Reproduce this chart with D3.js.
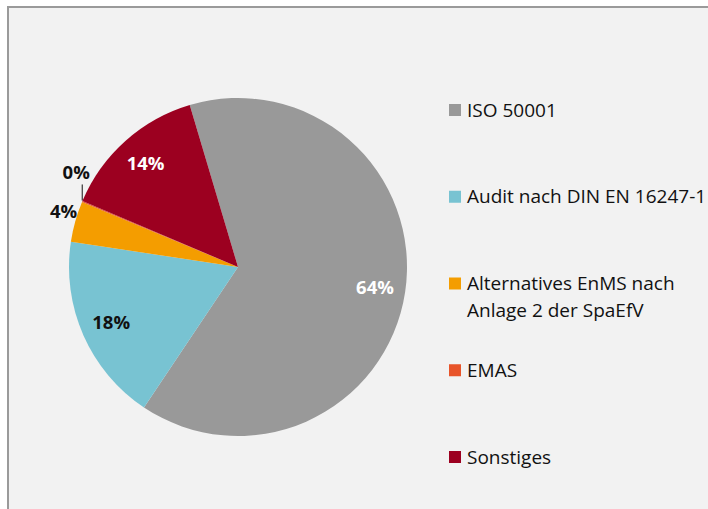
<!DOCTYPE html>
<html>
<head>
<meta charset="utf-8">
<script src="https://cdn.jsdelivr.net/npm/d3@7"></script>
<style>
  body { margin: 0; background: #fff; }
  svg { display: block; font-family: "Open Sans", sans-serif; }
</style>
</head>
<body>
<div id="chart"></div>
<script>
// data
var categories = ['ISO 50001', 'Audit nach DIN EN 16247-1', 'Alternatives EnMS nach Anlage 2 der SpaEfV', 'EMAS', 'Sonstiges'];
var legendLines = [['ISO 50001'], ['Audit nach DIN EN 16247-1'], ['Alternatives EnMS nach', 'Anlage 2 der SpaEfV'], ['EMAS'], ['Sonstiges']];
var values = [64, 18, 3.9, 0.1, 14];
var labels = ['64%', '18%', '4%', '0%', '14%'];
var colors = ['#999999', '#78c3d2', '#f49d00', '#e8542a', '#9c0020'];

var width = 708, height = 509;
var cx = 238, cy = 267, radius = 169;

var svg = d3.select('#chart').append('svg')
    .attr('width', width)
    .attr('height', height);

// chart area frame
svg.append('rect')
    .attr('x', 8).attr('y', 7)
    .attr('width', width + 20).attr('height', height + 20)
    .style('fill', '#f2f2f2')
    .style('stroke', '#9a9a9a')
    .style('stroke-width', 2);

var pie = d3.pie()
    .sort(null)
    .value(function(d) { return d; })
    .startAngle(-16.6 * Math.PI / 180)
    .endAngle((360 - 16.6) * Math.PI / 180);

var arcs = pie(values);

var arc = d3.arc().innerRadius(0).outerRadius(radius);
var inLabel = d3.arc().innerRadius(radius * 0.82).outerRadius(radius * 0.82);
var outLabel = d3.arc().innerRadius(radius * 1.09).outerRadius(radius * 1.09);
var edge = d3.arc().innerRadius(radius).outerRadius(radius);

var g = svg.append('g')
    .attr('transform', 'translate(' + cx + ',' + cy + ')');

g.selectAll('.slice')
    .data(arcs)
    .enter()
    .append('path')
    .attr('class', 'slice')
    .attr('d', arc)
    .style('fill', function(d, i) { return colors[i]; });

// data labels
arcs.forEach(function(d, i) {
    var pct = d.value / d3.sum(values);
    if (pct > 0.1) {
        var c = inLabel.centroid(d);
        g.append('text')
            .attr('x', c[0]).attr('y', c[1])
            .attr('dy', '0.35em')
            .attr('text-anchor', 'middle')
            .style('font-weight', 'bold')
            .style('font-size', '18.5px')
            .style('fill', i === 1 ? '#111' : '#fff')
            .text(labels[i]);
    } else if (pct > 0.01) {
        var o = outLabel.centroid(d);
        g.append('text')
            .attr('x', o[0] + 3).attr('y', o[1] - 6)
            .attr('dy', '0.35em')
            .attr('text-anchor', 'middle')
            .style('font-weight', 'bold')
            .style('font-size', '18.5px')
            .style('fill', '#111')
            .text(labels[i]);
    } else {
        var p = edge.centroid(d);
        g.append('line')
            .attr('x1', p[0]).attr('y1', p[1] - 1)
            .attr('x2', p[0]).attr('y2', p[1] - 17)
            .style('stroke', '#111')
            .style('stroke-width', 1);
        g.append('text')
            .attr('x', p[0] - 6).attr('y', p[1] - 22)
            .attr('text-anchor', 'middle')
            .style('font-weight', 'bold')
            .style('font-size', '18.5px')
            .style('fill', '#111')
            .text(labels[i]);
    }
});

// legend
var ly = d3.scalePoint()
    .domain(categories)
    .range([110, 457]);

var legend = svg.selectAll('.legend')
    .data(categories)
    .enter()
    .append('g')
    .attr('class', 'legend')
    .attr('transform', function(d) { return 'translate(449,' + ly(d) + ')'; });

legend.append('rect')
    .attr('x', 0).attr('y', -6)
    .attr('width', 12).attr('height', 12)
    .style('fill', function(d, i) { return colors[i]; });

legend.each(function(d, i) {
    var t = d3.select(this).append('text')
        .attr('x', 18)
        .style('font-size', '19px')
        .style('fill', '#111');
    legendLines[i].forEach(function(line, j) {
        t.append('tspan')
            .attr('x', 18)
            .attr('y', j * 27)
            .attr('dy', '0.35em')
            .text(line);
    });
});
</script>
</body>
</html>
